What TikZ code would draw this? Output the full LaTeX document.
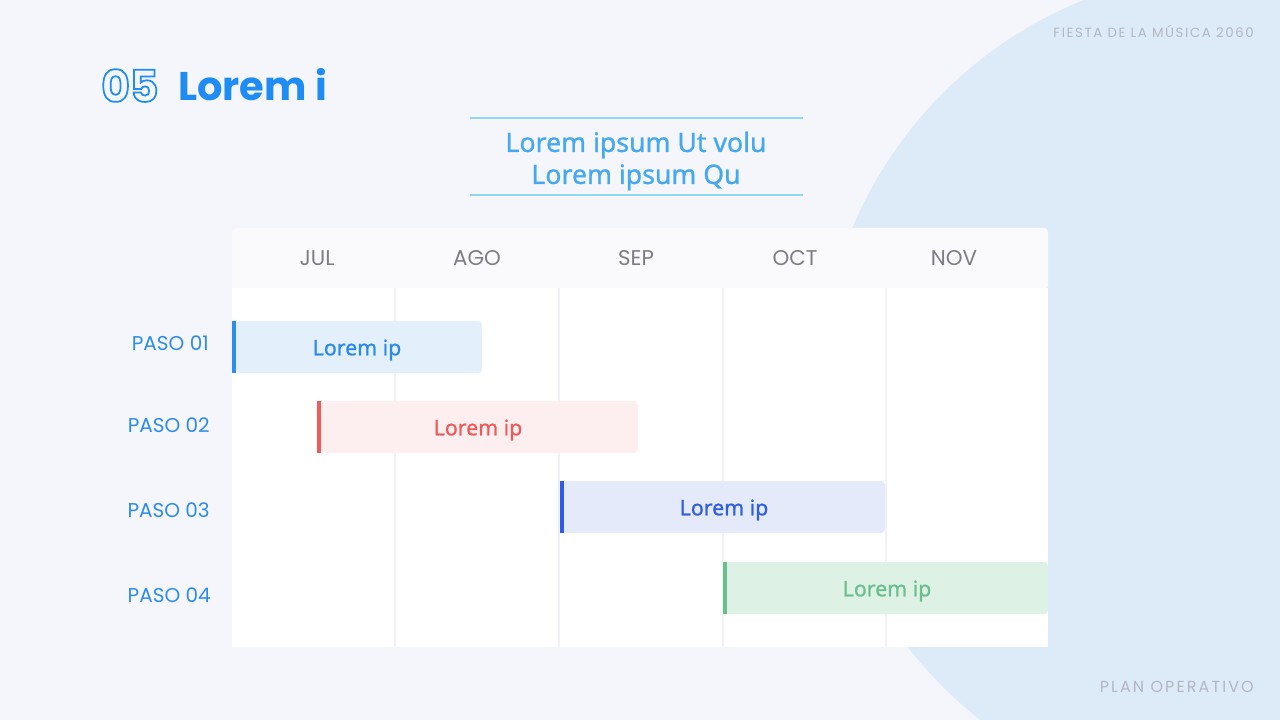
\documentclass[tikz,border=0pt]{standalone}
\usepackage{fontspec}
\setmainfont{Noto Sans}
\newfontfamily\pop{Poppins}
\newfontfamily\popA{Poppins}[LetterSpace=12]
\newfontfamily\popB{Poppins}[LetterSpace=13]
\newfontfamily\notomed{Noto Sans}[FakeBold=1]
\definecolor{bg}{HTML}{F4F6FB}
\definecolor{circ}{HTML}{DDEAF8}
\definecolor{titleblue}{HTML}{1E8CF2}
\definecolor{subblue}{HTML}{45A8F0}
\definecolor{subline}{HTML}{8ED8F2}
\definecolor{hdr}{HTML}{FAFAFC}
\definecolor{grid}{HTML}{F1F2F5}
\definecolor{monthgrey}{HTML}{7C7E84}
\definecolor{stepblue}{HTML}{2D8CEB}
\definecolor{cornergrey}{HTML}{B3B7C3}
\definecolor{aFill}{HTML}{E3F0FC}\definecolor{aAcc}{HTML}{2B8EF0}\definecolor{aTxt}{HTML}{2B8AE6}
\definecolor{bFill}{HTML}{FDEFEF}\definecolor{bAcc}{HTML}{F05A5A}\definecolor{bTxt}{HTML}{EE5A5A}
\definecolor{cFill}{HTML}{E5EAFB}\definecolor{cAcc}{HTML}{2E5BEA}\definecolor{cTxt}{HTML}{2F5FE0}
\definecolor{dFill}{HTML}{DDF1E5}\definecolor{dAcc}{HTML}{6BBF8F}\definecolor{dTxt}{HTML}{6BBF8F}
\tikzset{
  month/.style={font=\pop\fontsize{16}{19}\selectfont, text=monthgrey, inner sep=0pt},
  steplabel/.style={font=\pop\fontsize{15}{18}\selectfont, text=stepblue, anchor=east, inner sep=0pt},
  bartext/.style={font=\notomed\fontsize{16}{19}\selectfont, inner sep=0pt},
  gridline/.style={draw=grid, line width=0.9pt},
}
\begin{document}
\begin{tikzpicture}[x=0.75pt,y=-0.75pt]
\useasboundingbox (0,0) rectangle (1280,720);
\fill[bg] (0,0) rectangle (1280,720);
\begin{scope}
\clip (0,0) rectangle (1280,720);
\fill[circ] (1240,390) circle (315pt);
\end{scope}
% corner texts
\node[anchor=east, inner sep=0pt, font=\popA\fontsize{10}{12}\selectfont, text=cornergrey] (event) at (1254,31) {FIESTA DE LA MÚSICA 2060};
\node[anchor=east, inner sep=0pt, font=\popB\fontsize{12}{14}\selectfont, text=cornergrey] (plan) at (1254,687) {PLAN OPERATIVO};
% title
\node[anchor=base west, inner sep=0pt, text=titleblue, font=\pop\bfseries\fontsize{33}{38}\selectfont] (num) at (101,102) {\special{pdf:literal direct 1 Tr 1.3 w}05\special{pdf:literal direct 0 Tr}};
\node[anchor=base west, inner sep=0pt, text=titleblue, font=\pop\bfseries\fontsize{30}{36}\selectfont] (title) at (178,101) {Lorem i};
% subtitle
\coordinate (sl1) at (470,118); \coordinate (sr1) at (803,118);
\coordinate (sl2) at (470,195); \coordinate (sr2) at (803,195);
\draw[subline, line width=0.9pt] (sl1) -- (sr1);
\draw[subline, line width=0.9pt] (sl2) -- (sr2);
\node[align=center, inner sep=0pt, text=subblue, font=\notomed\fontsize{20}{24}\selectfont] (sub) at (636,161) {Lorem ipsum Ut volu\\Lorem ipsum Qu};
% table
\fill[hdr, rounded corners=3pt] (232,228) rectangle (1048,290);
\fill[white] (232,288) rectangle (1048,647);
\foreach \x in {395,559,723,886} \draw[gridline] (\x,288) -- (\x,647);
\node[month] (m1) at (317,258) {JUL};
\node[month] (m2) at (477,258) {AGO};
\node[month] (m3) at (636,258) {SEP};
\node[month] (m4) at (795,258) {OCT};
\node[month] (m5) at (954,258) {NOV};
% step labels
\node[steplabel] (p1) at (209,343) {PASO 01};
\node[steplabel] (p2) at (210,425) {PASO 02};
\node[steplabel] (p3) at (210,510) {PASO 03};
\node[steplabel] (p4) at (211,595) {PASO 04};
% bars
\fill[aFill, rounded corners=3pt] (232,321) rectangle (482,373);
\fill[aAcc] (232,321) rectangle (236,373);
\node[bartext, text=aTxt] (bar1) at (357,350) {Lorem ip};
\fill[bFill, rounded corners=3pt] (317,401) rectangle (638,453);
\fill[bAcc] (317,401) rectangle (321,453);
\node[bartext, text=bTxt] (bar2) at (478,430) {Lorem ip};
\fill[cFill, rounded corners=3pt] (560,481) rectangle (885,533);
\fill[cAcc] (560,481) rectangle (564,533);
\node[bartext, text=cTxt] (bar3) at (724,510) {Lorem ip};
\fill[dFill, rounded corners=3pt] (723,562) rectangle (1048,614);
\fill[dAcc] (723,562) rectangle (727,614);
\node[bartext, text=dTxt] (bar4) at (887,591) {Lorem ip};
\end{tikzpicture}
\end{document}
